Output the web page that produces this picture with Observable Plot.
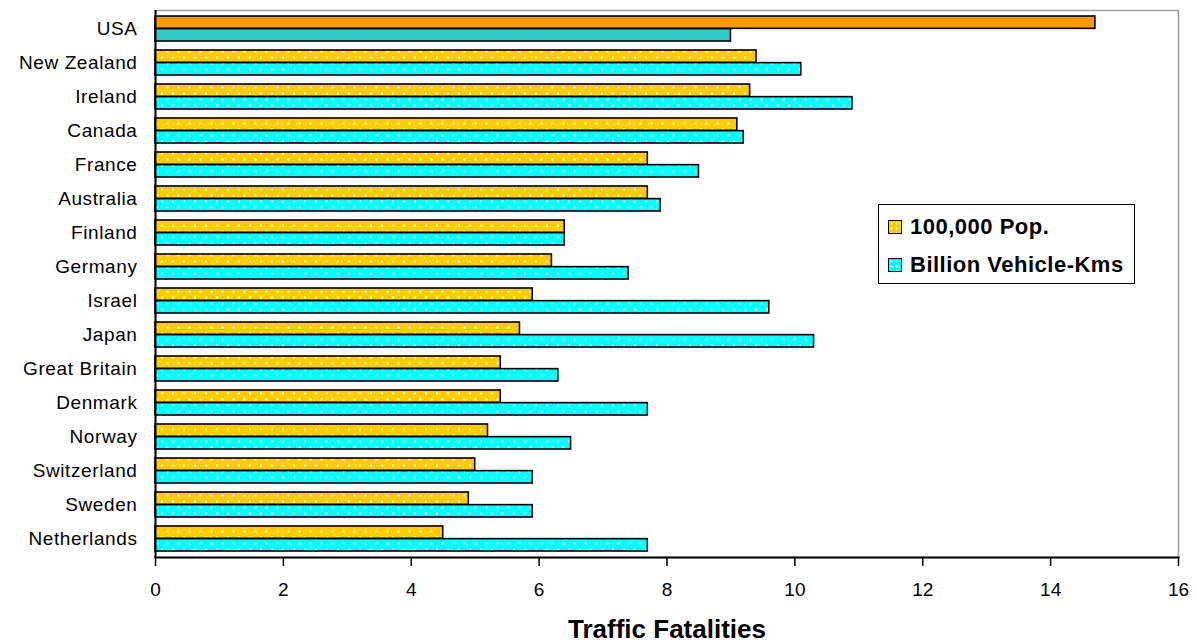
<!DOCTYPE html>
<html>
<head>
<meta charset="utf-8">
<script src="https://cdn.jsdelivr.net/npm/d3@7"></script>
<script src="https://cdn.jsdelivr.net/npm/@observablehq/plot@0.6"></script>
<style>
  html, body { margin: 0; padding: 0; background: #fff; }
  #wrap { position: relative; width: 1197px; height: 643px; font-family: "Liberation Sans", Arial, sans-serif; }
  #wrap svg { display: block; }
  g[aria-label="y-axis tick label"] text { letter-spacing: 0.6px; }
  #legend { position: absolute; left: 878px; top: 204px; width: 257px; height: 80px; border: 1.6px solid #000; background: #fff; box-sizing: border-box; font-weight: bold; font-size: 22px; line-height: 25px; color: #000; letter-spacing: 0.5px; }
  #legend .row { position: absolute; left: 9px; display: flex; align-items: center; white-space: nowrap; }
  #legend .sw { width: 14px; height: 14px; border: 1.5px solid #000; margin-right: 8px; box-sizing: border-box; }
</style>
</head>
<body>
<div id="wrap"></div>
<script>
const countries = ["USA","New Zealand","Ireland","Canada","France","Australia","Finland","Germany","Israel","Japan","Great Britain","Denmark","Norway","Switzerland","Sweden","Netherlands"];
const perPop = [14.7, 9.4, 9.3, 9.1, 7.7, 7.7, 6.4, 6.2, 5.9, 5.7, 5.4, 5.4, 5.2, 5.0, 4.9, 4.5];
const perVkm = [9.0, 10.1, 10.9, 9.2, 8.5, 7.9, 6.4, 7.4, 9.6, 10.3, 6.3, 7.7, 6.5, 5.9, 5.9, 7.7];
const seriesNames = ["100,000 Pop.", "Billion Vehicle-Kms"];
const xTicks = [0, 2, 4, 6, 8, 10, 12, 14, 16];
const xTitle = "Traffic Fatalities";

const rows = countries.map((c, i) => ({country: c, pop: perPop[i], vkm: perVkm[i]}));
const isUSA = d => d.country === "USA";
const notUSA = d => d.country !== "USA";

const step = (643 - 10 - 86) / (countries.length);
const bw = step * 0.74;
const half = bw / 2;

const chart = Plot.plot({
  width: 1197,
  height: 643,
  marginTop: 10,
  marginBottom: 86,
  marginLeft: 155,
  marginRight: 19,
  style: {fontFamily: "'Liberation Sans', Arial, sans-serif", color: "#000", background: "#fff"},
  x: {domain: [0, 16]},
  y: {domain: countries, paddingInner: 0.26, paddingOuter: 0.13},
  marks: [
    Plot.frame({stroke: "#a0a0a0", strokeWidth: 1.5}),
    Plot.barX(rows, {filter: isUSA, y: "country", x: "pop", fill: "#FF9900", stroke: "#000", strokeWidth: 1.6, insetBottom: half}),
    Plot.barX(rows, {filter: notUSA, y: "country", x: "pop", fill: "url(#dotGold)", stroke: "#000", strokeWidth: 1.6, insetBottom: half}),
    Plot.barX(rows, {filter: isUSA, y: "country", x: "vkm", fill: "#33CCCC", stroke: "#000", strokeWidth: 1.6, insetTop: half}),
    Plot.barX(rows, {filter: notUSA, y: "country", x: "vkm", fill: "url(#dotCyan)", stroke: "#000", strokeWidth: 1.6, insetTop: half}),
    Plot.ruleX([0], {stroke: "#000", strokeWidth: 2}),
    Plot.frame({anchor: "bottom", stroke: "#000", strokeWidth: 2}),
    Plot.axisX({ticks: xTicks, tickSize: 9, tickPadding: 16, fontSize: 19, label: null, tickFormat: d => String(d), strokeWidth: 1.5}),
    Plot.axisY({tickSize: 0, tickPadding: 18, fontSize: 19, label: null}),
    Plot.text([xTitle], {frameAnchor: "bottom", dy: 80, lineAnchor: "bottom", fontSize: 26, fontWeight: "bold", fill: "#000", style: "letter-spacing:0.6px"})
  ]
});

const defs = `
<pattern id="dotGold" width="11" height="12" patternUnits="userSpaceOnUse">
  <rect width="11" height="12" fill="#FFCC00"/>
  <rect x="1.5" y="2.5" width="2" height="2" fill="#fff" fill-opacity="0.95"/>
  <rect x="7" y="8.5" width="2" height="2" fill="#fff" fill-opacity="0.95"/>
</pattern>
<pattern id="dotCyan" width="11" height="12" patternUnits="userSpaceOnUse">
  <rect width="11" height="12" fill="#00FFFF"/>
  <rect x="1.5" y="2.5" width="2" height="2" fill="#fff" fill-opacity="0.95"/>
  <rect x="7" y="8.5" width="2" height="2" fill="#fff" fill-opacity="0.95"/>
</pattern>`;
d3.select(chart).insert("defs", ":first-child").html(defs);

const wrap = document.getElementById("wrap");
wrap.appendChild(chart);

const legend = document.createElement("div");
legend.id = "legend";
const swStyles = [
  "background-color:#FFCC00;background-image:radial-gradient(circle, #fff 0.9px, transparent 1.3px);background-size:5px 5px;",
  "background-color:#00FFFF;background-image:radial-gradient(circle, #fff 0.9px, transparent 1.3px);background-size:5px 5px;"
];
seriesNames.forEach((name, i) => {
  const row = document.createElement("div");
  row.className = "row";
  row.style.top = (i === 0 ? 9 : 47) + "px";
  const sw = document.createElement("div");
  sw.className = "sw";
  sw.setAttribute("style", swStyles[i]);
  const t = document.createElement("span");
  t.textContent = name;
  row.appendChild(sw);
  row.appendChild(t);
  legend.appendChild(row);
});
wrap.appendChild(legend);
</script>
</body>
</html>
